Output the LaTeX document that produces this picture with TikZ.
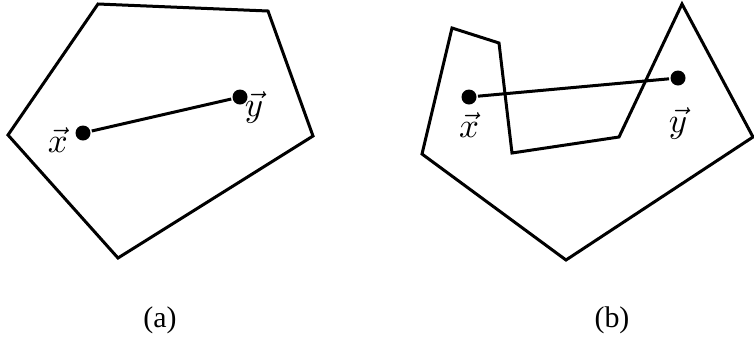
\documentclass[tikz,border=0pt]{standalone}
\usepackage{amsmath,amssymb}
\usepackage{fontspec}
\setmainfont{Liberation Serif}
\usepackage{tikz}
\usetikzlibrary{arrows.meta}

\begin{document}
\begin{tikzpicture}[x=1bp,y=-1bp,line width=3bp,line join=miter,
  pt/.style={circle,fill=black,inner sep=0pt,minimum size=15bp},
  lbl/.style={scale=3.5,inner sep=0.3pt},
  caption/.style={font=\fontsize{30}{30}\selectfont}]
\useasboundingbox (0,0) rectangle (754,339);
% (a) convex
\draw (98,4) -- (268,11) -- (313,136) -- (118,258) -- (8,135) -- cycle;
\node[pt] (xa) at (83,133) {};
\node[pt] (ya) at (240,97) {};
\draw (xa) -- (ya);
\node[lbl,left,yshift=-2bp] at (xa.west) {$\vec{x}$};
\node[lbl,right,xshift=-3bp,yshift=-3bp] at (ya.east) {$\vec{y}$};
\node[caption] (capa) at (160,320) {(a)};
% (b) not convex
\draw (452,28) -- (499,43) -- (512,153) -- (619,137) -- (682,4) -- (753,137)
  -- (566,260) -- (422,154) -- cycle;
\node[pt] (xb) at (469,97) {};
\node[pt] (yb) at (678,78) {};
\draw (xb) -- (yb);
\node[lbl,below] at (xb.south) {$\vec{x}$};
\node[lbl,below,yshift=-4bp] at (yb.south) {$\vec{y}$};
\node[caption] (capb) at (612,320) {(b)};
\end{tikzpicture}
\end{document}
